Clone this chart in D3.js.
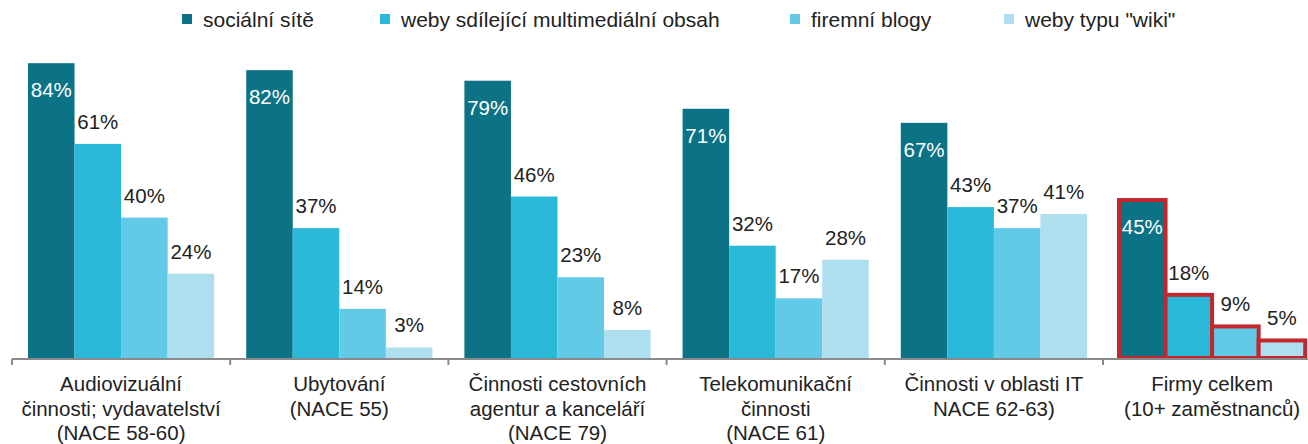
<!DOCTYPE html>
<html>
<head>
<meta charset="utf-8">
<script src="https://cdn.jsdelivr.net/npm/d3@7"></script>
<style>
  html, body { margin: 0; padding: 0; background: #fff; }
  svg { display: block; font-family: "Liberation Sans", Arial, sans-serif; }
</style>
</head>
<body>
<svg id="chart" width="1308" height="444"></svg>
<script>
const categories = [
  "Audiovizuální činnosti; vydavatelství (NACE 58-60)",
  "Ubytování (NACE 55)",
  "Činnosti cestovních agentur a kanceláří (NACE 79)",
  "Telekomunikační činnosti (NACE 61)",
  "Činnosti v oblasti IT NACE 62-63)",
  "Firmy celkem (10+ zaměstnanců)"
];
const categoryLines = [
  ["Audiovizuální", "činnosti; vydavatelství", "(NACE 58-60)"],
  ["Ubytování", "(NACE 55)"],
  ["Činnosti cestovních", "agentur a kanceláří", "(NACE 79)"],
  ["Telekomunikační", "činnosti", "(NACE 61)"],
  ["Činnosti v oblasti IT", "NACE 62-63)"],
  ["Firmy celkem", "(10+ zaměstnanců)"]
];
const seriesNames = ["sociální sítě", "weby sdílející multimediální obsah", "firemní blogy", "weby typu \"wiki\""];
const socialni = [84, 82, 79, 71, 67, 45];
const multimedia = [61, 37, 46, 32, 43, 18];
const blogy = [40, 14, 23, 17, 37, 9];
const wiki = [24, 3, 8, 28, 41, 5];
const seriesValues = [socialni, multimedia, blogy, wiki];
const highlightCategory = "Firmy celkem (10+ zaměstnanců)";

const colors = ["#0c7386", "#2bb9d9", "#62cae6", "#aedfee"];
const red = "#c1272d";

const svg = d3.select("#chart");
const groupStep = 218.2;
const left = 12;
const baseY = 358;

const x0 = d3.scaleBand().domain(categories).range([left, left + groupStep * categories.length]).padding(0);
const x1 = d3.scaleBand().domain(seriesNames).range([16, groupStep - 16]).padding(0);
const y = d3.scaleLinear().domain([0, 100]).range([baseY, 7]);

const rows = [];
categories.forEach((c, ci) => {
  seriesNames.forEach((s, si) => {
    rows.push({ cat: c, ci, series: s, si, value: seriesValues[si][ci] });
  });
});

const g = svg.append("g");
g.selectAll("rect.bar").data(rows).join("rect")
  .attr("class", "bar")
  .attr("x", d => x0(d.cat) + x1(d.series))
  .attr("y", d => y(d.value))
  .attr("width", x1.bandwidth())
  .attr("height", d => baseY - y(d.value))
  .attr("fill", d => colors[d.si])
  .attr("stroke", d => d.cat === highlightCategory ? red : "none")
  .attr("stroke-width", d => d.cat === highlightCategory ? 4 : 0);

const axisG = svg.append("g");
axisG.append("line")
  .attr("x1", x0.range()[0]).attr("x2", x0.range()[1])
  .attr("y1", baseY + 1).attr("y2", baseY + 1)
  .attr("stroke", "#8a8a8a").attr("stroke-width", 2);
const boundaries = categories.map(c => x0(c)).concat([x0.range()[1]]);
axisG.selectAll("line.tick").data(boundaries).join("line")
  .attr("class", "tick")
  .attr("x1", d => d).attr("x2", d => d)
  .attr("y1", baseY + 1).attr("y2", baseY + 7)
  .attr("stroke", "#8a8a8a").attr("stroke-width", 2);

g.selectAll("text.val").data(rows).join("text")
  .attr("class", "val")
  .attr("x", d => x0(d.cat) + x1(d.series) + x1.bandwidth() / 2)
  .attr("y", d => d.si === 0 ? y(d.value) + 34 : y(d.value) - 15)
  .attr("text-anchor", "middle")
  .attr("font-size", "20.5px")
  .attr("fill", d => d.si === 0 ? "#ffffff" : "#222222")
  .text(d => d.value + "%");

const catG = svg.append("g");
categories.forEach((c, ci) => {
  const cx = x0(c) + x0.bandwidth() / 2;
  const t = catG.append("text")
    .attr("x", cx)
    .attr("y", 391)
    .attr("text-anchor", "middle")
    .attr("font-size", "20.5px")
    .attr("fill", "#222");
  categoryLines[ci].forEach((line, li) => {
    t.append("tspan").attr("x", cx).attr("dy", li === 0 ? 0 : 24.5).text(line);
  });
});

const legendX = [182, 380, 790, 1004];
const leg = svg.append("g");
seriesNames.forEach((s, i) => {
  leg.append("rect").attr("x", legendX[i]).attr("y", 14).attr("width", 10).attr("height", 10).attr("fill", colors[i]);
  leg.append("text").attr("x", legendX[i] + 21).attr("y", 26.5).attr("font-size", "21px").attr("fill", "#222").text(s);
});
</script>
</body>
</html>
